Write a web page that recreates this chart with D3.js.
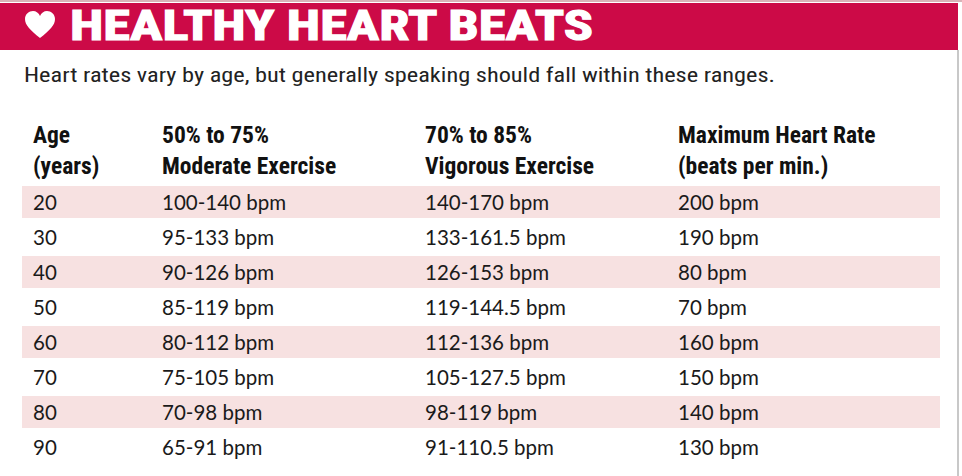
<!DOCTYPE html>
<html><head><meta charset="utf-8">
<script src="https://cdn.jsdelivr.net/npm/d3@7"></script>
<style>body{margin:0;background:#fff}</style>
</head><body>
<svg id="chart" width="962" height="476"></svg>
<script>
const ages = ['20', '30', '40', '50', '60', '70', '80', '90'];
const moderate = ['100-140 bpm', '95-133 bpm', '90-126 bpm', '85-119 bpm', '80-112 bpm', '75-105 bpm', '70-98 bpm', '65-91 bpm'];
const vigorous = ['140-170 bpm', '133-161.5 bpm', '126-153 bpm', '119-144.5 bpm', '112-136 bpm', '105-127.5 bpm', '98-119 bpm', '91-110.5 bpm'];
const maxRate = ['200 bpm', '190 bpm', '80 bpm', '70 bpm', '160 bpm', '150 bpm', '140 bpm', '130 bpm'];
const headers = [['Age', '(years)'], ['50% to 75%', 'Moderate Exercise'], ['70% to 85%', 'Vigorous Exercise'], ['Maximum Heart Rate', '(beats per min.)']];
const columns = [ages, moderate, vigorous, maxRate];

const svg = d3.select('#chart');
const condensed = "'Liberation Sans Narrow', 'Roboto Condensed', 'DejaVu Sans Condensed', sans-serif";

// banner
svg.append('rect').attr('x', 0).attr('y', 0).attr('width', 962).attr('height', 2).attr('fill', '#d9b3b8');
svg.append('rect').attr('x', 0).attr('y', 3).attr('width', 958).attr('height', 47).attr('fill', '#cc0a47');
svg.append('rect').attr('x', 957).attr('y', 50).attr('width', 2).attr('height', 426).attr('fill', '#c8c8c8');
svg.append('path')
  .attr('d', 'M40,38 C30,30 25,25 25,19 C25,14 29,11 33,11 C36,11 39,13 40,16 C41,13 44,11 47,11 C51,11 55,14 55,19 C55,25 50,30 40,38 Z')
  .attr('fill', '#fff');
svg.append('text').attr('x', 70).attr('y', 40)
  .attr('font-family', condensed).attr('font-weight', 700)
  .attr('font-size', 42).attr('fill', '#fff').attr('stroke', '#fff').attr('stroke-width', 1.2)
  .attr('textLength', 523).attr('lengthAdjust', 'spacingAndGlyphs')
  .text('HEALTHY HEART BEATS');

svg.append('text').attr('x', 24).attr('y', 82)
  .attr('font-family', condensed).attr('font-size', 21).attr('fill', '#222')
  .attr('textLength', 751).attr('lengthAdjust', 'spacingAndGlyphs')
  .text('Heart rates vary by age, but generally speaking should fall within these ranges.');

const x = d3.scaleOrdinal().domain([0, 1, 2, 3]).range([33, 162, 425, 678]);
const y = d3.scaleBand().domain(ages).range([186, 466]).padding(0);

// header
const hg = svg.append('g').selectAll('g').data(headers).join('g');
hg.selectAll('text').data((d, i) => d.map(t => ({t, i}))).join('text')
  .attr('x', d => x(d.i)).attr('y', (d, j) => 143 + j * 31)
  .attr('font-family', condensed).attr('font-weight', 700).attr('font-size', 23.5).attr('fill', '#111')
  .text(d => d.t);

// stripes
svg.append('g').selectAll('rect').data(ages.filter((d, i) => i % 2 === 0)).join('rect')
  .attr('x', 22).attr('y', d => y(d)).attr('width', 918).attr('height', y.bandwidth() - 3)
  .attr('fill', '#f7e1e1');

// cells
const rows = svg.append('g').selectAll('g').data(ages).join('g')
  .attr('transform', d => `translate(0,${y(d) + y.bandwidth() / 2 + 6})`);
rows.selectAll('text').data((d, r) => columns.map((c, i) => ({t: c[r], i}))).join('text')
  .attr('x', d => x(d.i)).attr('y', 0)
  .attr('font-family', "'Lato', 'Open Sans', sans-serif").attr('font-size', 20.5).attr('fill', '#1a1a1a')
  .text(d => d.t);
</script>
</body></html>
